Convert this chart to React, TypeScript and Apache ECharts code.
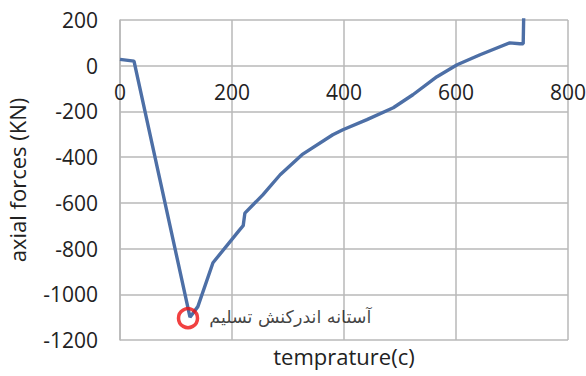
import React, { useEffect, useRef } from "react";
import * as echarts from "echarts";

// Temperature (c) samples along the curve
const temperature = [0, 25, 71, 125, 139, 166, 214, 220, 223, 255, 286, 325, 380, 398, 441, 488, 523, 566, 602, 643, 696, 714, 720, 721];
// Axial force (KN) at each temperature sample
const axialForce = [28, 20, -495, -1100, -1054, -862, -717, -700, -645, -565, -477, -389, -302, -280, -236, -184, -127, -48, 4, 48, 100, 96, 96, 230];

// Yield interaction threshold marker
const thresholdPoint = [125, -1100];
const thresholdLabel = "آستانه اندرکنش تسلیم";

const xTicks = { min: 0, max: 800, interval: 200 };
const yTicks = { min: -1200, max: 200, interval: 200 };

const GRID = { left: 120, right: 18, top: 20, bottom: 36 };
const HEIGHT = 376;

export default function App() {
  const ref = useRef<HTMLDivElement>(null);

  useEffect(() => {
    if (!ref.current) return;
    const chart = echarts.init(ref.current, undefined, { renderer: "svg" });
    const gridColor = "#b9b9b9";
    const font = "'Open Sans', sans-serif";
    // Pixel distance from the plot bottom up to the zero line, so the
    // temperature labels sit just under y = 0.
    const plotH = HEIGHT - GRID.top - GRID.bottom;
    const zeroLift = (plotH * (0 - yTicks.min)) / (yTicks.max - yTicks.min);
    chart.setOption({
      animation: false,
      backgroundColor: "#ffffff",
      grid: { ...GRID, outerBoundsMode: "none", containLabel: false },
      xAxis: [
        {
          type: "value",
          min: xTicks.min,
          max: xTicks.max,
          interval: xTicks.interval,
          offset: -zeroLift,
          axisLine: { show: false },
          axisTick: { show: false },
          axisLabel: { fontFamily: font, fontSize: 21, color: "#222", margin: 16 },
          splitLine: { show: true, lineStyle: { color: gridColor, width: 1.5 } },
        },
        {
          type: "value",
          position: "bottom",
          min: xTicks.min,
          max: xTicks.max,
          interval: xTicks.interval,
          name: "temprature(c)",
          nameLocation: "middle",
          nameGap: 5,
          nameTextStyle: { fontFamily: font, fontSize: 22, color: "#222" },
          axisLine: { show: false },
          axisTick: { show: false },
          axisLabel: { show: false },
          splitLine: { show: false },
        },
      ],
      yAxis: {
        type: "value",
        min: yTicks.min,
        max: yTicks.max,
        interval: yTicks.interval,
        name: "axial forces (KN)",
        nameLocation: "middle",
        nameGap: 92,
        nameTextStyle: { fontFamily: font, fontSize: 22, color: "#222" },
        axisLine: { show: true, lineStyle: { color: gridColor, width: 1.5 } },
        axisTick: { show: false },
        axisLabel: {
          fontFamily: font,
          fontSize: 21,
          color: "#222",
          margin: 22,
          formatter: (v: number) => String(v),
        },
        splitLine: { show: true, lineStyle: { color: gridColor, width: 1.5 } },
      },
      series: [
        {
          type: "line",
          xAxisIndex: 0,
          data: temperature.map((t, i) => [t, axialForce[i]]),
          showSymbol: false,
          clip: true,
          lineStyle: { color: "#4d6fa6", width: 3.4 },
          z: 3,
        },
        {
          type: "scatter",
          xAxisIndex: 0,
          data: [thresholdPoint],
          symbol: "circle",
          symbolSize: 19,
          symbolOffset: [-2, 1],
          itemStyle: { color: "rgba(255,255,255,0)", borderColor: "#ee1111", borderWidth: 3.5 },
          label: {
            show: true,
            position: "right",
            distance: 10,
            offset: [0, -1],
            formatter: () => thresholdLabel,
            fontFamily: "'DejaVu Sans', sans-serif",
            fontSize: 17.5,
            color: "#111",
          },
          z: 4,
        },
      ],
    });
    return () => chart.dispose();
  }, []);

  return (
    <div
      ref={ref}
      style={{ position: "absolute", left: 0, top: 0, width: 586, height: HEIGHT }}
    />
  );
}
